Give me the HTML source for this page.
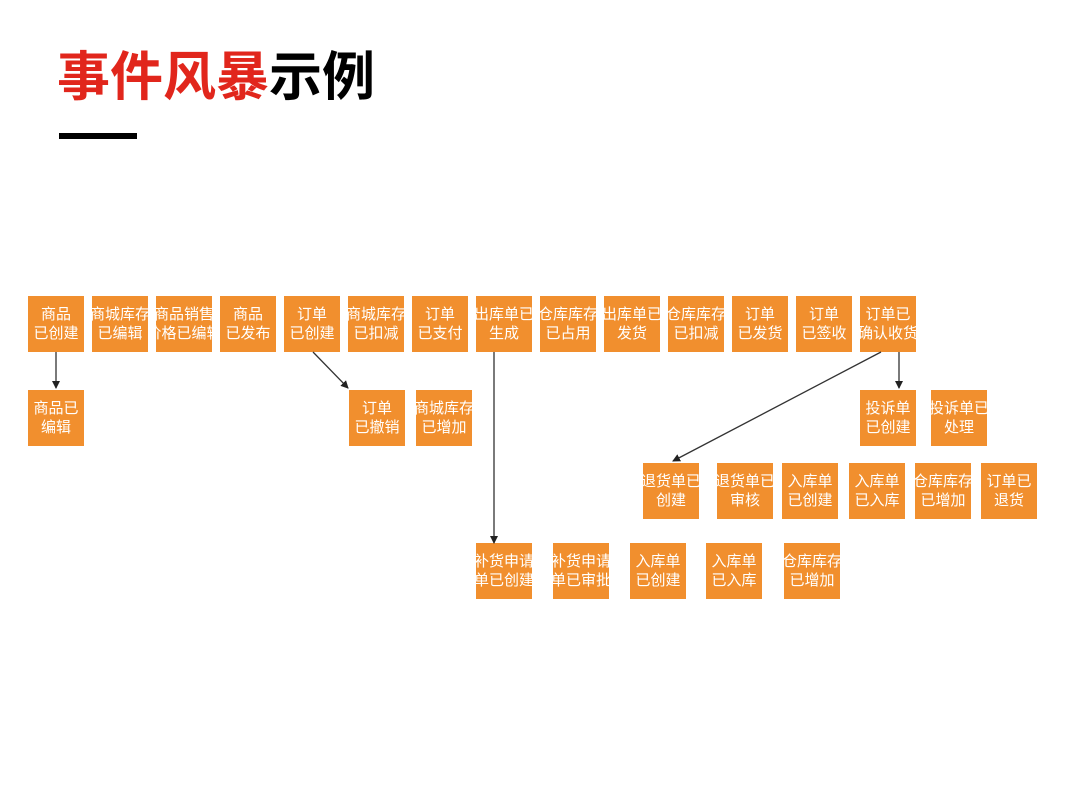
<!DOCTYPE html>
<html><head><meta charset="utf-8"><style>
body{margin:0;width:1080px;height:810px;background:#fff;position:relative;overflow:hidden;font-family:"Liberation Sans","Noto Sans CJK SC",sans-serif}
.t{position:absolute;left:57px;top:45px;font-size:53px;font-weight:bold;line-height:66px;letter-spacing:0px;white-space:nowrap}
.bar{position:absolute;left:59px;top:133px;width:78px;height:6px;background:#000}
.b{position:absolute;width:56px;height:56px;background:#f18f2e;color:#fff;font-size:15px;line-height:19px;display:flex;flex-direction:column;justify-content:center;align-items:center;overflow:hidden;white-space:nowrap}
svg{position:absolute;left:0;top:0}
</style></head><body>
<div class="t"><span style="color:#e1261c">事件风暴</span><span style="color:#000">示例</span></div>
<div class="bar"></div>
<div class="b" style="left:28px;top:296px"><span>商品</span><span>已创建</span></div>
<div class="b" style="left:92px;top:296px"><span>商城库存</span><span>已编辑</span></div>
<div class="b" style="left:156px;top:296px"><span>商品销售</span><span>价格已编辑</span></div>
<div class="b" style="left:220px;top:296px"><span>商品</span><span>已发布</span></div>
<div class="b" style="left:284px;top:296px"><span>订单</span><span>已创建</span></div>
<div class="b" style="left:348px;top:296px"><span>商城库存</span><span>已扣减</span></div>
<div class="b" style="left:412px;top:296px"><span>订单</span><span>已支付</span></div>
<div class="b" style="left:476px;top:296px"><span>出库单已</span><span>生成</span></div>
<div class="b" style="left:540px;top:296px"><span>仓库库存</span><span>已占用</span></div>
<div class="b" style="left:604px;top:296px"><span>出库单已</span><span>发货</span></div>
<div class="b" style="left:668px;top:296px"><span>仓库库存</span><span>已扣减</span></div>
<div class="b" style="left:732px;top:296px"><span>订单</span><span>已发货</span></div>
<div class="b" style="left:796px;top:296px"><span>订单</span><span>已签收</span></div>
<div class="b" style="left:860px;top:296px"><span>订单已</span><span>确认收货</span></div>

<div class="b" style="left:28px;top:390px"><span>商品已</span><span>编辑</span></div>
<div class="b" style="left:349px;top:390px"><span>订单</span><span>已撤销</span></div>
<div class="b" style="left:416px;top:390px"><span>商城库存</span><span>已增加</span></div>
<div class="b" style="left:860px;top:390px"><span>投诉单</span><span>已创建</span></div>
<div class="b" style="left:931px;top:390px"><span>投诉单已</span><span>处理</span></div>

<div class="b" style="left:643px;top:463px"><span>退货单已</span><span>创建</span></div>
<div class="b" style="left:717px;top:463px"><span>退货单已</span><span>审核</span></div>
<div class="b" style="left:782px;top:463px"><span>入库单</span><span>已创建</span></div>
<div class="b" style="left:849px;top:463px"><span>入库单</span><span>已入库</span></div>
<div class="b" style="left:915px;top:463px"><span>仓库库存</span><span>已增加</span></div>
<div class="b" style="left:981px;top:463px"><span>订单已</span><span>退货</span></div>

<div class="b" style="left:476px;top:543px"><span>补货申请</span><span>单已创建</span></div>
<div class="b" style="left:553px;top:543px"><span>补货申请</span><span>单已审批</span></div>
<div class="b" style="left:630px;top:543px"><span>入库单</span><span>已创建</span></div>
<div class="b" style="left:706px;top:543px"><span>入库单</span><span>已入库</span></div>
<div class="b" style="left:784px;top:543px"><span>仓库库存</span><span>已增加</span></div>

<svg width="1080" height="810">
<defs><marker id="a" markerWidth="8" markerHeight="8" refX="7" refY="4" orient="auto" markerUnits="userSpaceOnUse"><path d="M0,0 L8,4 L0,8 z" fill="#222"/></marker></defs>
<g stroke="#333" stroke-width="1.3" fill="none">
<line x1="56" y1="352" x2="56" y2="388" marker-end="url(#a)"/>
<line x1="313" y1="352" x2="348" y2="388" marker-end="url(#a)"/>
<line x1="494" y1="352" x2="494" y2="543" marker-end="url(#a)"/>
<line x1="899" y1="352" x2="899" y2="388" marker-end="url(#a)"/>
<line x1="881" y1="352" x2="673" y2="461" marker-end="url(#a)"/>
</g></svg>
</body></html>
